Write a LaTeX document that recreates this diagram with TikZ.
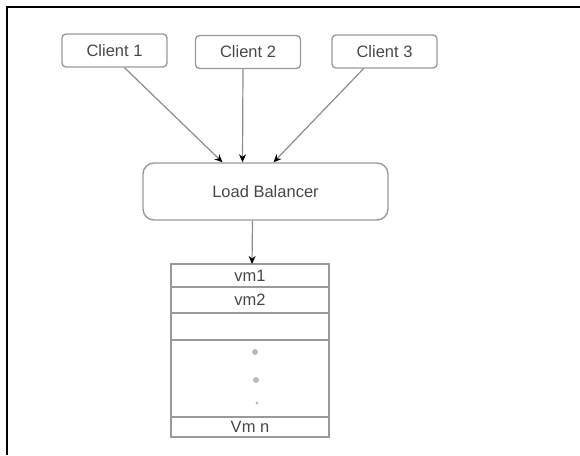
\documentclass[tikz,border=0pt]{standalone}
\usepackage{fontspec}
\setmainfont{Liberation Sans}
\usetikzlibrary{arrows.meta,positioning}
\definecolor{boxgray}{gray}{0.6}
\definecolor{txtgray}{gray}{0.28}
\tikzset{
  client/.style={draw=boxgray,line width=1.4pt,rounded corners=4pt,minimum width=105pt,minimum height=33pt,text=txtgray},
  balancer/.style={draw=boxgray,line width=1.4pt,rounded corners=11pt,minimum width=245pt,minimum height=57pt,text=txtgray},
  cell/.style={draw=boxgray,line width=1.3pt,minimum width=158pt,inner sep=0pt,outer sep=0pt,text=txtgray},
  feed/.style={draw=gray!90,line width=1.2pt,-{Stealth[black,length=8pt,width=7pt]}}
}
\begin{document}
\begin{tikzpicture}[x=1pt,y=-1pt,font=\fontsize{16.5}{18}\selectfont]
\useasboundingbox (0,0) rectangle (580,455);
\draw[line width=2.8pt] (7,455) -- (7,7) -- (580,7);
\node[client] (c1) at (114.5,50.5) {Client 1};
\node[client] (c2) at (248,52) {Client 2};
\node[client] (c3) at (384.5,51.5) {Client 3};
\node[balancer] (lb) at (265.5,191.5) {Load Balancer};
% stack of machines
\node[cell,minimum height=23pt] (vm1) at (250,275.5) {vm1};
\node[cell,minimum height=26pt,below=0pt of vm1] (vm2) {vm2};
\node[cell,minimum height=27pt,below=0pt of vm2] (gap) {};
\node[cell,minimum height=77pt,below=0pt of gap] (dots) {};
\node[cell,minimum height=20pt,below=0pt of dots] (vmn) {Vm n};
\fill[gray!55] (255,352) circle (3pt) (256,380) circle (3pt) (257,403) circle (1.6pt);
\draw[feed] ([xshift=10pt]c1.south) -- ([xshift=-43pt]lb.north);
\draw[feed] ([xshift=-5pt]c2.south) -- ([xshift=-23pt]lb.north);
\draw[feed] ([xshift=-21pt]c3.south) -- ([xshift=8pt]lb.north);
\draw[feed] ([xshift=-13pt]lb.south) -- ([xshift=2pt]vm1.north);
\end{tikzpicture}
\end{document}
